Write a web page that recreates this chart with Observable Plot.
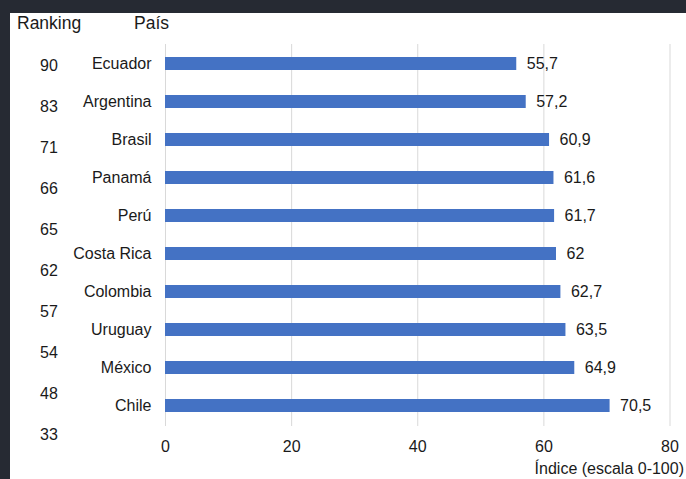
<!DOCTYPE html>
<html>
<head>
<meta charset="utf-8">
<script src="https://cdn.jsdelivr.net/npm/d3@7"></script>
<script src="https://cdn.jsdelivr.net/npm/@observablehq/plot@0.6"></script>
<style>
  html, body { margin: 0; padding: 0; }
  body { width: 686px; height: 479px; background: #262a33; position: relative; overflow: hidden;
         font-family: "Liberation Sans", Arial, sans-serif; color: #1a1a1a; }
  .abs { position: absolute; }
  .hdr { font-size: 17.5px; line-height: 20px; top: 13px; white-space: nowrap; }
  #xlabel { font-size: 16px; line-height: 20px; top: 459px; right: 2px; white-space: nowrap; }
</style>
</head>
<body>
<div id="main" class="abs" style="left:10px; top:13px;"></div>
<div id="ranks" class="abs" style="left:0; top:0;"></div>
<div class="abs hdr" style="left:17px;">Ranking</div>
<div class="abs hdr" style="left:134px;">País</div>
<div id="xlabel" class="abs">Índice (escala 0-100)</div>
<script>
const countries = ["Ecuador","Argentina","Brasil","Panamá","Perú","Costa Rica","Colombia","Uruguay","México","Chile"];
const values = [55.7, 57.2, 60.9, 61.6, 61.7, 62, 62.7, 63.5, 64.9, 70.5];
const rankings = [90, 83, 71, 66, 65, 62, 57, 54, 48, 33];
const xTicks = [0, 20, 40, 60, 80];

const data = countries.map((c, i) => ({country: c, value: values[i]}));
const fmt = v => String(v).replace(".", ",");

const main = Plot.plot({
  width: 676, height: 466,
  marginLeft: 155, marginRight: 16.5, marginTop: 31, marginBottom: 53,
  style: {fontFamily: "'Liberation Sans', Arial, sans-serif", fontSize: "16px", color: "#1a1a1a", background: "white"},
  x: {domain: [0, 80], ticks: xTicks, label: null},
  y: {domain: countries, paddingInner: 0.65, paddingOuter: 0.325, label: null},
  marks: [
    Plot.gridX(xTicks, {stroke: "#d9d9d9", strokeOpacity: 1}),
    Plot.barX(data, {x: "value", y: "country", fill: "#4472c4"}),
    Plot.text(data, {x: "value", y: "country", text: d => fmt(d.value), textAnchor: "start", dx: 10, fontSize: 16, fill: "#1a1a1a"}),
    Plot.axisX(xTicks, {tickSize: 0, tickPadding: 14, label: null, fontSize: 16}),
    Plot.axisY({tickSize: 0, tickPadding: 14, label: null, fontSize: 16})
  ]
});
document.getElementById("main").appendChild(main);

const ranks = Plot.plot({
  width: 97, height: 479, margin: 0,
  style: {fontFamily: "'Liberation Sans', Arial, sans-serif", fontSize: "16px", color: "#1a1a1a", background: "transparent"},
  y: {type: "point", domain: rankings, range: [62, 436], padding: 0, axis: null},
  marks: [
    Plot.text(rankings, {y: d => d, text: d => String(d), frameAnchor: "middle", fontSize: 16, fill: "#1a1a1a"})
  ]
});
document.getElementById("ranks").appendChild(ranks);
</script>
</body>
</html>
